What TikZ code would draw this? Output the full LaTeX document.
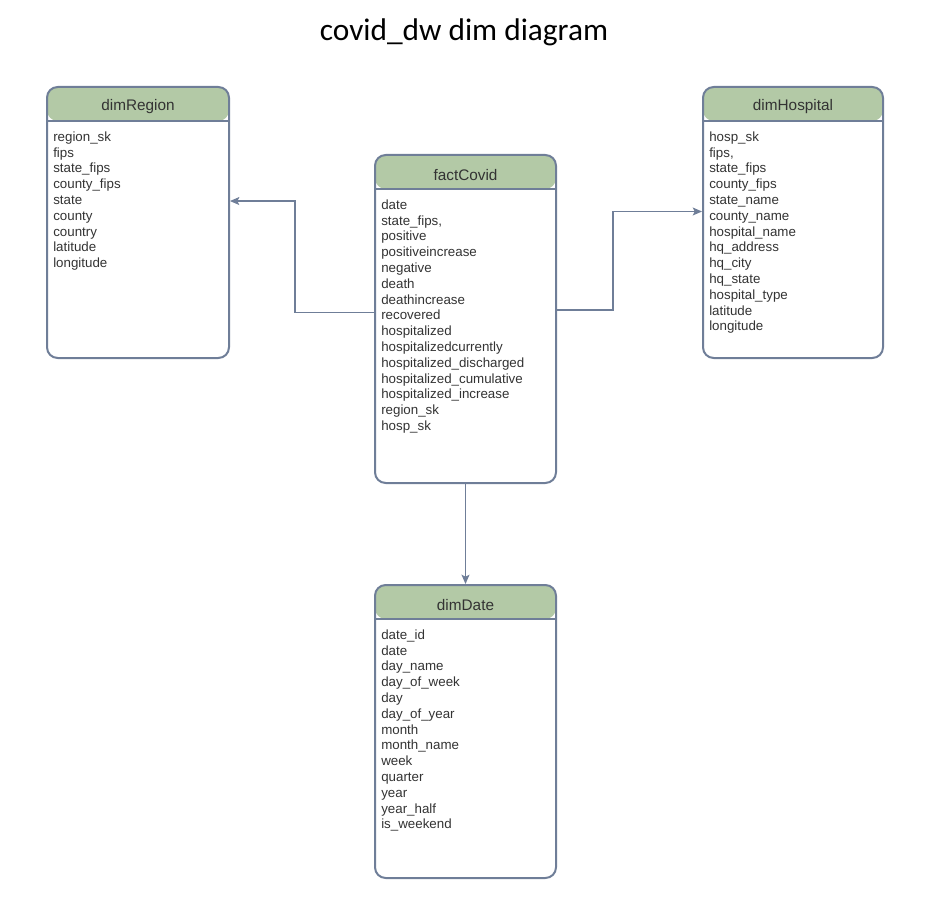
\documentclass[tikz,border=0pt]{standalone}
\usepackage{fontspec}
\setmainfont{Liberation Sans}
\newfontfamily\titlefont{Carlito}
\usetikzlibrary{positioning,arrows.meta}

\definecolor{linea}{HTML}{6F7E98}
\definecolor{testa}{HTML}{B3C9A6}
\definecolor{scritta}{HTML}{333333}

\tikzset{
  tabella/.style 2 args={draw=linea, line width=1.5pt, rounded corners=8pt, fill=white,
    minimum width=#1, minimum height=#2, inner sep=0pt,
    path picture={
      \fill[testa] (path picture bounding box.north west) rectangle ([yshift=-25.5pt]path picture bounding box.north east);
      \draw[linea, line width=1.5pt] ([yshift=-25.5pt]path picture bounding box.north west) -- ([yshift=-25.5pt]path picture bounding box.north east);
    }},
  testata/.style={text=scritta, font=\fontsize{11.5}{13}\selectfont, inner sep=0pt},
  campi/.style={text=scritta, font=\fontsize{10}{11.85}\selectfont, align=left, inner sep=0pt, anchor=north west},
  freccia/.style={draw=linea, line width=0.8pt, -{Stealth[length=7pt,width=6pt,inset=1.5pt]}}
}

\begin{document}
\begin{tikzpicture}[x=0.75pt,y=-0.75pt]
\useasboundingbox (0,0) rectangle (942,902);

\node[text=black, font=\titlefont\fontsize{23.5}{27}\selectfont] (titolo) at (464,32) {covid\_dw dim diagram};

% tabelle
\node[tabella={136.5pt}{203.25pt}] (region) at (138,222.5) {};
\node[testata] (regionHead) at ([yshift=-15.5pt]region.north) {dimRegion};
\node[campi] (regionCampi) at ([xshift=5.25pt,yshift=-34pt]region.north west) {region\_sk\\fips\\state\_fips\\county\_fips\\state\\county\\country\\latitude\\longitude};

\node[tabella={135.75pt}{246pt}] (fact) at (465.5,319) {};
\node[testata] (factHead) at ([yshift=-15.5pt]fact.north) {factCovid};
\node[campi] (factCampi) at ([xshift=5.25pt,yshift=-34pt]fact.north west) {date\\state\_fips,\\positive\\positiveincrease\\negative\\death\\deathincrease\\recovered\\hospitalized\\hospitalizedcurrently\\hospitalized\_discharged\\hospitalized\_cumulative\\hospitalized\_increase\\region\_sk\\hosp\_sk};

\node[tabella={135pt}{203.25pt}] (hospital) at (793,222.5) {};
\node[testata] (hospitalHead) at ([yshift=-15.5pt]hospital.north) {dimHospital};
\node[campi] (hospitalCampi) at ([xshift=5.25pt,yshift=-34pt]hospital.north west) {hosp\_sk\\fips,\\state\_fips\\county\_fips\\state\_name\\county\_name\\hospital\_name\\hq\_address\\hq\_city\\hq\_state\\hospital\_type\\latitude\\longitude};

\node[tabella={135.75pt}{219.75pt}] (date) at (465.5,731.5) {};
\node[testata] (dateHead) at ([yshift=-15.5pt]date.north) {dimDate};
\node[campi] (dateCampi) at ([xshift=5.25pt,yshift=-34pt]date.north west) {date\_id\\date\\day\_name\\day\_of\_week\\day\\day\_of\_year\\month\\month\_name\\week\\quarter\\year\\year\_half\\is\_weekend};

% collegamenti
\draw[freccia] ([yshift=5pt]fact.west) -- ++(-79,0) |- ([yshift=16.1pt]region.east);
\draw[freccia] ([yshift=6.75pt]fact.east) -- ++(56,0) |- ([yshift=8.25pt]hospital.west);
\draw[freccia] (fact.south) -- (date.north);

\end{tikzpicture}
\end{document}
